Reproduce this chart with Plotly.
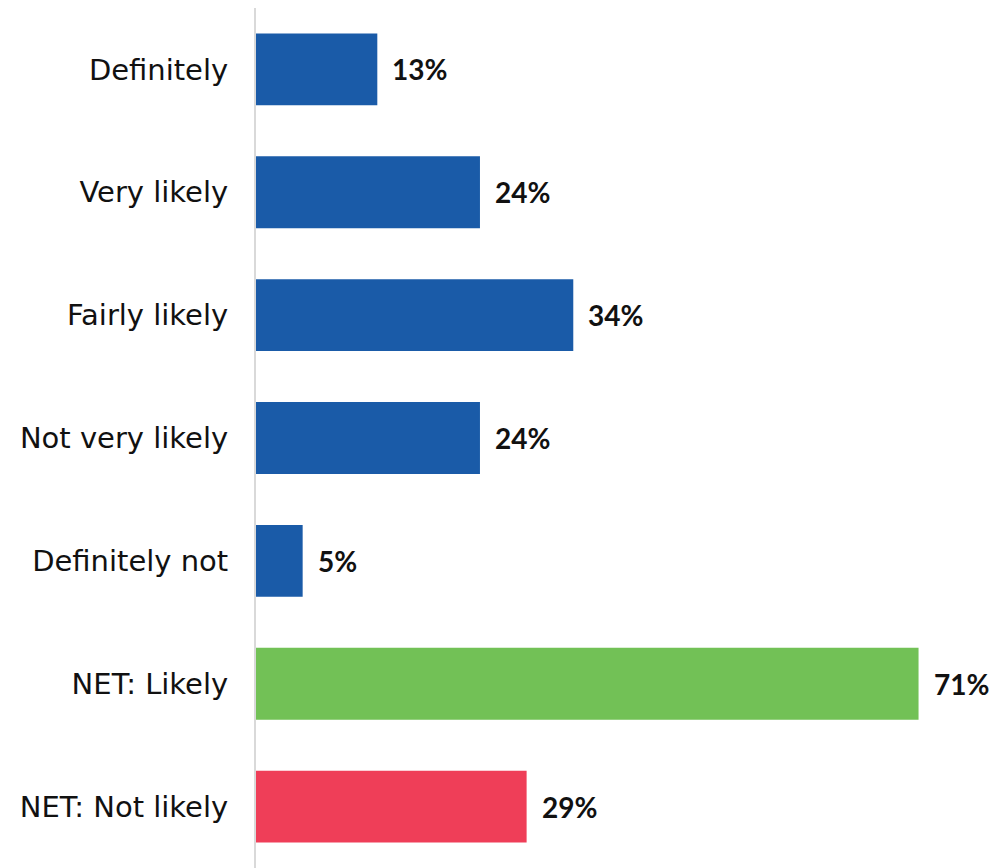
import plotly.graph_objects as go

categories = ["Definitely", "Very likely", "Fairly likely", "Not very likely",
              "Definitely not", "NET: Likely", "NET: Not likely"]
values = [13, 24, 34, 24, 5, 71, 29]
bar_colors = ["#1a5ba8", "#1a5ba8", "#1a5ba8", "#1a5ba8", "#1a5ba8",
              "#72c156", "#ef3e58"]
value_labels = [f"{v}%" for v in values]

LABEL_FONT = "DejaVu Sans"
VALUE_FONT = "Lato"

fig = go.Figure(
    go.Bar(
        y=categories,
        x=values,
        orientation="h",
        marker=dict(color=bar_colors, line=dict(width=0)),
        width=0.585,
        hoverinfo="skip",
    )
)

# bold percentage labels just past the end of each bar
for cat, val, lab in zip(categories, values, value_labels):
    fig.add_annotation(
        x=val, y=cat, text=f"<b>{lab}</b>", showarrow=False,
        xanchor="left", yanchor="middle", xshift=13,
        font=dict(family=VALUE_FONT, size=28, color="#111111"),
    )

fig.update_layout(
    width=996, height=868,
    margin=dict(l=256, r=0, t=8, b=0),
    paper_bgcolor="white", plot_bgcolor="white",
    showlegend=False,
    font=dict(family=LABEL_FONT, size=28, color="#111111"),
    xaxis=dict(range=[0, 79.3], visible=False, fixedrange=True),
    yaxis=dict(
        categoryorder="array", categoryarray=categories,
        autorange="reversed",
        showline=True, linecolor="#d9d9d9", linewidth=2,
        showgrid=False, ticks="", ticklabelstandoff=20,
        tickfont=dict(family=LABEL_FONT, size=29, color="#111111"),
    ),
)

fig.write_html("out.html")
